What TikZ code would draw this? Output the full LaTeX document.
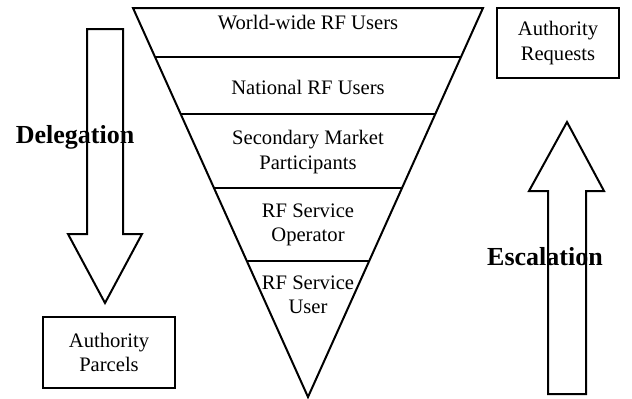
\documentclass[tikz,border=0pt]{standalone}
\usepackage{fontspec}
\setmainfont{Liberation Serif}
\usetikzlibrary{calc}

\begin{document}
\begin{tikzpicture}[x=0.5pt,y=0.5pt,line width=1pt,
  tier/.style={align=center,font=\fontsize{10.3}{12.2}\selectfont},
  auth_box/.style={draw,align=center,inner sep=0pt,font=\fontsize{10.3}{12.2}\selectfont},
  flow_label/.style={font=\fontsize{13}{15}\selectfont\bfseries}]

    \useasboundingbox (0,0) rectangle (632,398);

    \coordinate (tl) at (133,390);
    \coordinate (tr) at (483,390);
    \coordinate (ap) at (308,1);
    \draw (tl) -- (tr) -- (ap) -- cycle;
    \draw ($(tl)!0.126!(ap)$) -- ($(tr)!0.126!(ap)$);
    \draw ($(tl)!0.2725!(ap)$) -- ($(tr)!0.2725!(ap)$);
    \draw ($(tl)!0.4627!(ap)$) -- ($(tr)!0.4627!(ap)$);
    \draw ($(tl)!0.650!(ap)$) -- ($(tr)!0.650!(ap)$);

    \node[tier] (world) at (308,375) {World-wide RF Users};
    \node[tier] (national) at (308,311) {National RF Users};
    \node[tier] (market) at (308,246) {Secondary Market\\Participants};
    \node[tier] (operator) at (308,173) {RF Service\\Operator};
    \node[tier] (user) at (308,103) {RF Service\\User};

    \node[auth_box,minimum width=66pt,minimum height=35.5pt] (parcels) at (109,45.5) {Authority\\Parcels};
    \node[auth_box,minimum width=61pt,minimum height=35pt] (requests) at (558,355) {Authority\\Requests};

    \node[flow_label] (delegation) at (75,261) {Delegation};
    \node[flow_label] (escalation) at (545,141) {Escalation};

    \draw (87,369) -- (123,369) -- (123,164) -- (142,164) -- (105,95) -- (68,164) -- (87,164) -- cycle;
    \draw (548,4) -- (586,4) -- (586,207) -- (604,207) -- (567,276) -- (529,207) -- (548,207) -- cycle;
\end{tikzpicture}
\end{document}
